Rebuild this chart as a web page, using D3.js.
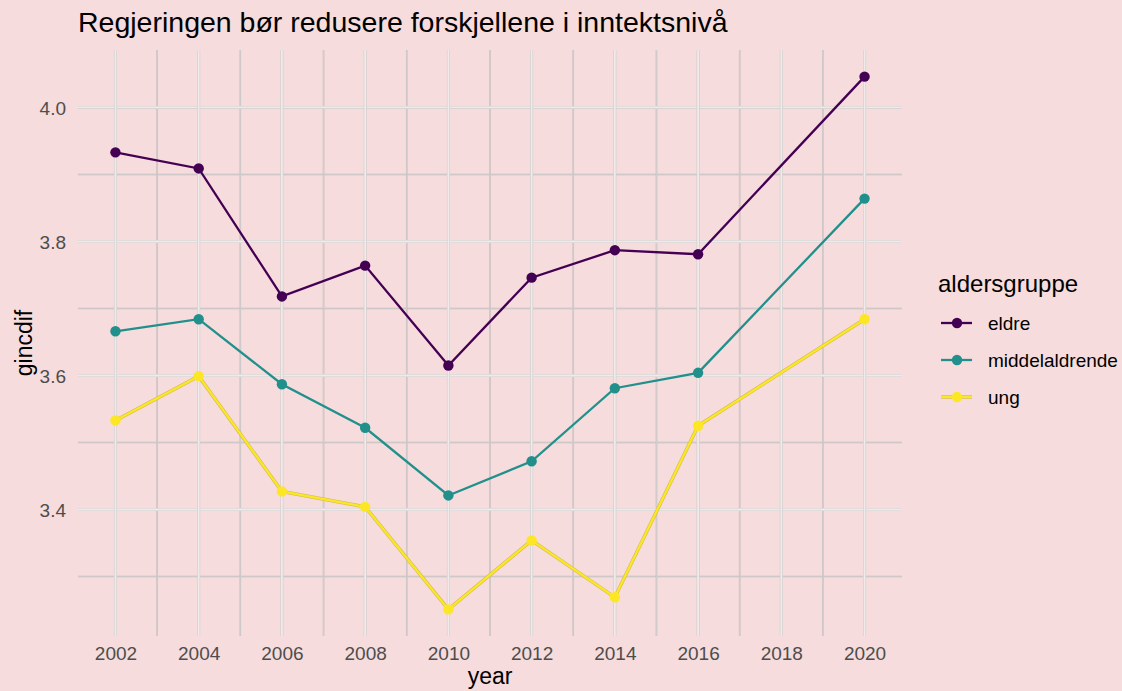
<!DOCTYPE html>
<html>
<head>
<meta charset="utf-8">
<script src="https://cdn.jsdelivr.net/npm/d3@7"></script>
<style>
  body { margin: 0; background: #f6dcdc; }
  svg { display: block; font-family: "Liberation Sans", Arial, sans-serif; }
</style>
</head>
<body>
<svg id="chart" width="1122" height="691"></svg>
<script>
const years = [2002, 2004, 2006, 2008, 2010, 2012, 2014, 2016, 2020];
const groups = ["eldre", "middelaldrende", "ung"];
const eldre = [3.933, 3.909, 3.718, 3.764, 3.615, 3.746, 3.787, 3.781, 4.046];
const middelaldrende = [3.666, 3.684, 3.587, 3.522, 3.421, 3.472, 3.581, 3.604, 3.864];
const ung = [3.533, 3.599, 3.427, 3.404, 3.251, 3.354, 3.269, 3.525, 3.684];
const xTicks = [2002, 2004, 2006, 2008, 2010, 2012, 2014, 2016, 2018, 2020];
const xMinor = [2003, 2005, 2007, 2009, 2011, 2013, 2015, 2017, 2019];
const yTicks = [3.4, 3.6, 3.8, 4.0];
const yMinor = [3.3, 3.5, 3.7, 3.9];
const colors = ["#440154", "#21908c", "#fde725"];

const seriesValues = [eldre, middelaldrende, ung];
const series = groups.map((g, i) => ({
  name: g,
  color: colors[i],
  values: years.map((y, j) => ({ year: y, v: seriesValues[i][j] }))
}));

const margin = { top: 50, right: 220, bottom: 55, left: 78 },
      width = 1122 - margin.left - margin.right,
      height = 691 - margin.top - margin.bottom;

const svg = d3.select("#chart");
const g = svg.append("g").attr("transform", `translate(${margin.left},${margin.top})`);

// scales with ggplot-style 5% expansion
const xr = d3.extent(years), xPad = (xr[1] - xr[0]) * 0.05;
const x = d3.scaleLinear().domain([xr[0] - xPad, xr[1] + xPad]).range([0, width]);
const allV = seriesValues.flat();
const yr = d3.extent(allV), yPad = (yr[1] - yr[0]) * 0.05;
const y = d3.scaleLinear().domain([yr[0] - yPad, yr[1] + yPad]).range([height, 0]);

// grid: minor first, then major
function gridLines(vals, vertical, under, over, wu, wo) {
  [[under, wu], [over, wo]].forEach(([col, w]) => {
    g.append("g").selectAll("line").data(vals).join("line")
      .attr("x1", d => vertical ? x(d) : 0)
      .attr("x2", d => vertical ? x(d) : width)
      .attr("y1", d => vertical ? 0 : y(d))
      .attr("y2", d => vertical ? height : y(d))
      .attr("stroke", col)
      .attr("stroke-width", w);
  });
}
gridLines(yMinor, false, "#c2baba", "#d9d2d2", 1.6, 0.6);
gridLines(xMinor, true, "#c6bebe", "#dcd5d5", 1.6, 0.6);
gridLines(yTicks, false, "#d2cbcb", "#efebeb", 3, 1.8);
gridLines(xTicks, true, "#d2cbcb", "#efebeb", 3, 1.8);

// axes
const xAxis = g.append("g")
  .attr("transform", `translate(0,${height})`)
  .call(d3.axisBottom(x).tickValues(xTicks).tickFormat(d3.format("d")).tickSize(0).tickPadding(11));
const yAxis = g.append("g")
  .call(d3.axisLeft(y).tickValues(yTicks).tickFormat(d3.format(".1f")).tickSize(0).tickPadding(12));
[xAxis, yAxis].forEach(a => {
  a.select(".domain").remove();
  a.selectAll("text")
    .style("font-family", "Liberation Sans, Arial, sans-serif")
    .style("font-size", "19px")
    .attr("fill", "#4d4d4d");
});
yAxis.selectAll("text").attr("dy", "0.36em");

// lines and points
const line = d3.line().x(d => x(d.year)).y(d => y(d.v));
series.forEach((s, i) => {
  if (i === 2) {
    g.append("path")
      .datum(s.values)
      .attr("fill", "none")
      .attr("stroke", "#cdbb52")
      .attr("stroke-width", 3.4)
      .attr("d", line);
  }
  g.append("path")
    .datum(s.values)
    .attr("fill", "none")
    .attr("stroke", s.color)
    .attr("stroke-width", 2.3)
    .attr("d", line);
  g.append("g").selectAll("circle").data(s.values).join("circle")
    .attr("cx", d => x(d.year))
    .attr("cy", d => y(d.v))
    .attr("r", 5.2)
    .attr("fill", s.color);
});

// title
svg.append("text")
  .attr("x", 78).attr("y", 32)
  .style("font-size", "28.5px")
  .attr("fill", "#000")
  .text("Regjeringen bør redusere forskjellene i inntektsnivå");

// axis titles
svg.append("text")
  .attr("x", margin.left + width / 2).attr("y", 684)
  .attr("text-anchor", "middle")
  .style("font-size", "23px")
  .text("year");
svg.append("text")
  .attr("transform", `translate(32,${margin.top + height / 2}) rotate(-90)`)
  .attr("text-anchor", "middle")
  .style("font-size", "23px")
  .text("gincdif");

// legend
const lg = svg.append("g").attr("transform", "translate(938,0)");
lg.append("text").attr("x", 0).attr("y", 292)
  .style("font-size", "24px").text("aldersgruppe");
series.forEach((s, i) => {
  const cy = 323 + i * 37;
  if (i === 2) {
    lg.append("line").attr("x1", 3).attr("x2", 34).attr("y1", cy).attr("y2", cy)
      .attr("stroke", "#cdbb52").attr("stroke-width", 3.4);
  }
  lg.append("line").attr("x1", 3).attr("x2", 34).attr("y1", cy).attr("y2", cy)
    .attr("stroke", s.color).attr("stroke-width", 2.3);
  lg.append("circle").attr("cx", 19).attr("cy", cy).attr("r", 5.2).attr("fill", s.color);
  lg.append("text").attr("x", 50).attr("y", cy).attr("dy", "0.35em")
    .style("font-size", "19px").text(s.name);
});
</script>
</body>
</html>
